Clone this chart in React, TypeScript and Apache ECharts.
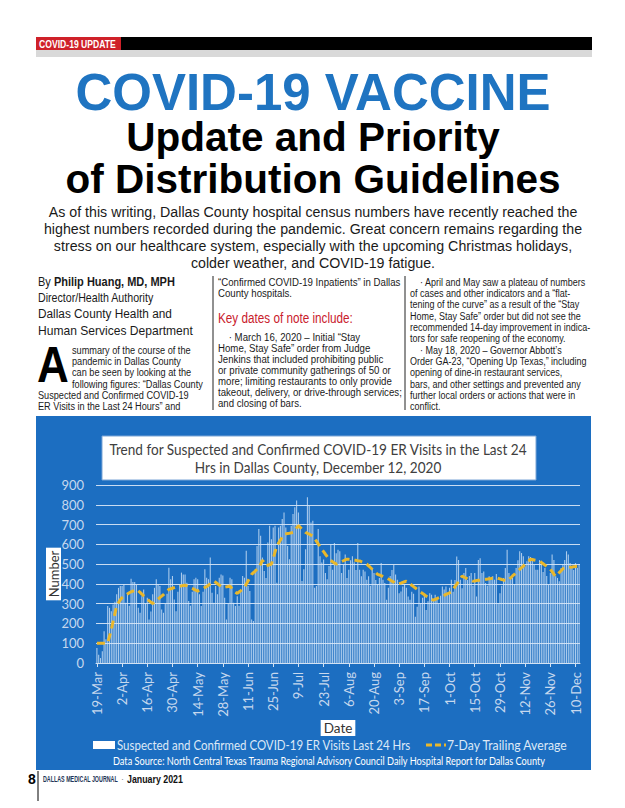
import React, { useEffect, useRef } from "react";
import * as echarts from "echarts";

// ---------- data ----------
const START_DAY = { year: 2020, month: 2, day: 19 }; // 19-Mar-2020
const MONTHS = ["Jan", "Feb", "Mar", "Apr", "May", "Jun", "Jul", "Aug", "Sep", "Oct", "Nov", "Dec"];
const TICK_LABELS = ["19-Mar", "2-Apr", "16-Apr", "30-Apr", "14-May", "28-May", "11-Jun", "25-Jun", "9-Jul", "23-Jul", "6-Aug", "20-Aug", "3-Sep", "17-Sep", "1-Oct", "15-Oct", "29-Oct", "12-Nov", "26-Nov", "10-Dec"];
const Y_MIN = 0;
const Y_MAX = 900;
const Y_STEP = 100;
const SERIES_NAMES = ["Suspected and Confirmed COVID-19 ER Visits Last 24 Hrs", "7-Day Trailing Average"];

const ER_VISITS = [
  76, 42, 25, 60, 160, 120, 288,
  279, 262, 296, 310, 347, 380, 389,
  389, 398, 305, 355, 290, 426, 410,
  410, 395, 279, 254, 338, 372, 300,
  330, 220, 260, 347, 380, 423, 398,
  389, 271, 254, 300, 350, 482, 423,
  440, 321, 262, 360, 400, 457, 448,
  448, 406, 313, 290, 360, 423, 431,
  423, 347, 288, 360, 474, 431, 423,
  533, 355, 305, 389, 347, 431, 448,
  443, 330, 220, 300, 431, 423, 305,
  288, 338, 290, 360, 440, 431, 567,
  389, 364, 220, 212, 474, 592, 677,
  643, 533, 465, 430, 609, 694, 626,
  685, 694, 406, 685, 694, 728, 761,
  685, 592, 525, 694, 753, 787, 821,
  761, 694, 415, 474, 575, 838, 795,
  711, 719, 381, 389, 677, 540, 508,
  523, 455, 423, 491, 601, 472, 607,
  555, 573, 565, 455, 497, 548, 430,
  472, 520, 540, 510, 470, 607, 472,
  438, 472, 463, 421, 438, 390, 480,
  455, 420, 400, 430, 505, 421, 404,
  320, 380, 440, 470, 497, 447, 421,
  353, 361, 387, 400, 380, 336, 320,
  360, 350, 234, 285, 387, 302, 330,
  350, 268, 312, 353, 345, 320, 345,
  320, 300, 340, 387, 371, 387, 350,
  380, 421, 360, 420, 538, 521, 421,
  378, 455, 480, 420, 440, 455, 390,
  455, 336, 521, 530, 455, 463, 404,
  390, 438, 420, 438, 421, 450, 302,
  353, 390, 430, 480, 573, 455, 430,
  430, 400, 480, 520, 565, 556, 540,
  489, 514, 540, 536, 530, 497, 472,
  472, 520, 500, 460, 480, 440, 396,
  455, 548, 521, 438, 430, 413, 480,
  500, 521, 565, 548, 505, 480, 470,
  505, 480, 500,
];

const TRAILING_AVG = [
  100, 100, 100, 100, 100, 100, 100,
  135, 169, 210, 250, 288, 305, 320,
  330, 336, 342, 349, 355, 360, 364,
  368, 372, 365, 357, 348, 340, 332,
  323, 315, 308, 301, 308, 316, 323,
  331, 338, 346, 355, 363, 372, 375,
  378, 381, 384, 386, 388, 390, 392,
  393, 390, 386, 381, 377, 372, 368,
  364, 368, 373, 377, 382, 386, 393,
  400, 407, 414, 408, 401, 394, 388,
  381, 383, 385, 387, 389, 377, 364,
  358, 352, 359, 366, 374, 381, 398,
  415, 431, 448, 457, 465, 474, 482,
  500, 520, 505, 491, 494, 497, 500,
  530, 561, 592, 607, 622, 636, 651,
  653, 655, 656, 658, 660, 671, 683,
  694, 686, 677, 669, 660, 656, 651,
  647, 643, 629, 616, 602, 589, 575,
  563, 550, 538, 525, 519, 512, 506,
  500, 504, 508, 513, 517, 521, 525,
  524, 523, 521, 520, 519, 517, 516,
  512, 508, 504, 500, 491, 483, 474,
  465, 457, 448, 445, 441, 438, 434,
  431, 425, 420, 414, 409, 403, 398,
  401, 404, 408, 411, 414, 407, 400,
  393, 386, 379, 372, 365, 358, 352,
  345, 338, 333, 328, 323, 318, 322,
  326, 330, 334, 338, 342, 347, 351,
  355, 359, 372, 386, 399, 413, 426,
  440, 435, 430, 425, 421, 418, 414,
  415, 417, 418, 419, 420, 422, 423,
  424, 426, 427, 429, 430, 431, 428,
  425, 422, 420, 417, 414, 423, 431,
  440, 448, 457, 465, 474, 482, 490,
  499, 508, 516, 525, 523, 521, 519,
  518, 516, 509, 502, 495, 488, 481,
  474, 462, 449, 437, 447, 457, 467,
  477, 479, 480, 482, 484, 485, 487,
  488, 489, 490,
];

const CATEGORIES = ER_VISITS.map((_, i) => {
  const d = new Date(Date.UTC(START_DAY.year, START_DAY.month, START_DAY.day + i));
  return `${d.getUTCDate()}-${MONTHS[d.getUTCMonth()]}`;
});

// ---------- text ----------
const HEADLINE = ["COVID-19 VACCINE", "Update and Priority", "of Distribution Guidelines"];
const INTRO_LINES = [
  "As of this writing, Dallas County hospital census numbers have recently reached the",
  "highest numbers recorded during the pandemic. Great concern remains regarding the",
  "stress on our healthcare system, especially with the upcoming Christmas holidays,",
  "colder weather, and COVID-19 fatigue.",
];
const COL1_DROP_LINES = [
  "summary of the course of the",
  "pandemic in Dallas County",
  "can be seen by looking at the",
  "following figures: \u201cDallas County",
];
const COL1_LINES = [
  "Suspected and Confirmed COVID-19",
  "ER Visits in the Last 24 Hours\u201d and",
];
const COL2_TOP = [
  "\u201cConfirmed COVID-19 Inpatients\u201d in Dallas",
  "County hospitals.",
];
const COL2_LINES = [
  "    \u00b7 March 16, 2020 \u2013 Initial \u201cStay",
  "Home, Stay Safe\u201d order from Judge",
  "Jenkins that included prohibiting public",
  "or private community gatherings of 50 or",
  "more; limiting restaurants to only provide",
  "takeout, delivery, or drive-through services;",
  "and closing of bars.",
];
const COL3_LINES = [
  "    \u00b7 April and May saw a plateau of numbers",
  "of cases and other indicators and a \u201cflat-",
  "tening of the curve\u201d as a result of the \u201cStay",
  "Home, Stay Safe\u201d order but did not see the",
  "recommended 14-day improvement in indica-",
  "tors for safe reopening of the economy.",
  "    \u00b7 May 18, 2020 \u2013 Governor Abbott\u2019s",
  "Order GA-23, \u201cOpening Up Texas,\u201d including",
  "opening of dine-in restaurant services,",
  "bars, and other settings and prevented any",
  "further local orders or actions that were in",
  "conflict.",
];
const CHART_TITLE = [
  "Trend for Suspected and Confirmed COVID-19 ER Visits in the Last 24",
  "Hrs in Dallas County, December 12, 2020",
];
const SOURCE = "Data Source: North Central Texas Trauma Regional Advisory Council Daily Hospital Report for Dallas County";

const HEAD = "'Liberation Sans', Arial, sans-serif";
const BODY = "'Liberation Sans', Arial, sans-serif";
const CHART_FONT = "Lato, 'Open Sans', sans-serif";
const BLUE = "#1c6ec1";
const TITLE_BLUE = "#1f74c1";

let mctx: CanvasRenderingContext2D | null = null;
function measure(t: string, size: number, family: string, weight = "normal") {
  if (!mctx) mctx = document.createElement("canvas").getContext("2d");
  mctx!.font = `${weight} ${size}px ${family}`;
  return mctx!.measureText(t).width;
}
function fit(t: string, size: number, family: string, target: number, weight = "normal") {
  return target / measure(t, size, family, weight);
}

function txt(x: number, y: number, text: string, size: number, opts: any = {}) {
  return {
    type: "text",
    x,
    y,
    z: opts.z ?? 10,
    scaleX: opts.scaleX ?? 1,
    style: {
      text,
      fontSize: size,
      lineHeight: opts.lineHeight,
      fontFamily: opts.family ?? BODY,
      fontWeight: opts.weight ?? "normal",
      fill: opts.fill ?? "#1a1a1a",
      textAlign: opts.align ?? "left",
      align: opts.align ?? "left",
      textVerticalAlign: "middle",
      verticalAlign: "middle",
      rich: opts.rich,
    },
  };
}
function rect(x: number, y: number, w: number, h: number, fill: string, z = 1, stroke?: string) {
  return {
    type: "rect",
    z,
    shape: { x, y, width: w, height: h },
    style: { fill, stroke: stroke ?? null, lineWidth: stroke ? 1 : 0 },
  };
}
function vline(x: number, y1: number, y2: number, color = "#222", w = 1) {
  return { type: "line", z: 5, shape: { x1: x, y1, x2: x, y2 }, style: { stroke: color, lineWidth: w } };
}

export default function App() {
  const ref = useRef<HTMLDivElement>(null);
  useEffect(() => {
    document.body.style.margin = "0";
    const chart = echarts.init(ref.current!, null, { renderer: "svg" });
    const isTick = (_i: number, v: string) => TICK_LABELS.includes(v);

    const g: any[] = [];
    // header bars
    g.push(rect(36, 37, 85, 13, "#cf2129", 2));
    g.push(rect(121, 37, 471, 13, "#000", 2));
    g.push(rect(36, 50, 556, 7, "#d9d9d9", 2));
    g.push(txt(39, 44, "COVID-19 UPDATE", 10.5, { fill: "#fff", weight: "bold", scaleX: fit("COVID-19 UPDATE", 10.5, BODY, 77, "bold") }));
    // headline (one block of three lines)
    g.push(
      txt(313, 134, `{a|${HEADLINE[0]}}\n{b|${HEADLINE[1]}}\n{b|${HEADLINE[2]}}`, 40.5, {
        align: "center",
        family: HEAD,
        weight: "bold",
        fill: "#000",
        rich: {
          a: { fontSize: 51, lineHeight: 47, fontFamily: HEAD, fontWeight: "bold", fill: TITLE_BLUE, color: TITLE_BLUE, align: "center" },
          b: { fontSize: 40.5, lineHeight: 42, fontFamily: HEAD, fontWeight: "bold", fill: "#000", color: "#000", align: "center" },
        },
      })
    );
    const introScale = fit(INTRO_LINES[0], 15, BODY, 529);
    INTRO_LINES.forEach((l, i) => g.push(txt(313, 212 + i * 17, l, 15, { align: "center", fill: "#1a1a1a", scaleX: introScale })));

    // column 1
    const byW = measure("By ", 13, BODY) + measure("Philip Huang, MD, MPH", 13, BODY, "bold");
    g.push(
      txt(38, 282, "{n|By }{b|Philip Huang, MD, MPH}", 13, {
        scaleX: 137 / byW,
        rich: {
          n: { fontSize: 13, fontFamily: BODY, fill: "#1a1a1a", color: "#1a1a1a" },
          b: { fontSize: 13, fontFamily: BODY, fontWeight: "bold", fill: "#1a1a1a", color: "#1a1a1a" },
        },
      })
    );
    g.push(txt(38, 298, "Director/Health Authority", 12, { scaleX: fit("Director/Health Authority", 12, BODY, 116) }));
    g.push(txt(38, 314, "Dallas County Health and", 13.5, { scaleX: fit("Dallas County Health and", 13.5, BODY, 134) }));
    g.push(txt(38, 330, "Human Services Department", 13.5, { scaleX: fit("Human Services Department", 13.5, BODY, 155) }));
    g.push(txt(37, 364, "A", 50, { family: HEAD, weight: "900", fill: "#000", scaleX: 0.88 }));
    const c1Scale = fit(COL1_DROP_LINES[3], 11, BODY, 131);
    COL1_DROP_LINES.forEach((l, i) => g.push(txt(72, 350 + i * 11.3, l, 11, { scaleX: c1Scale })));
    COL1_LINES.forEach((l, i) => g.push(txt(38, 395 + i * 11.3, l, 11, { scaleX: c1Scale })));

    // column 2
    g.push(vline(213, 276, 410));
    const c2Scale = fit(COL2_LINES[5], 11, BODY, 184);
    COL2_TOP.forEach((l, i) => g.push(txt(218, 282 + i * 11.3, l, 11, { scaleX: c2Scale })));
    g.push(txt(218, 318, "Key dates of note include:", 15, { fill: "#c9202c", scaleX: fit("Key dates of note include:", 15, BODY, 135) }));
    COL2_LINES.forEach((l, i) => g.push(txt(218, 337 + i * 11.1, l, 11, { scaleX: c2Scale })));

    // column 3
    g.push(vline(405, 276, 410));
    const c3Scale = fit(COL3_LINES[7], 11, BODY, 177);
    COL3_LINES.forEach((l, i) => g.push(txt(410, 282 + i * 11.3, l, 11, { scaleX: c3Scale })));

    // chart box & its texts
    g.push(rect(36, 416, 555, 354, BLUE, -10));
    g.push(rect(102, 436, 434, 44, "#ffffff", 5, "#7aa5d6"));
    const tScale = fit(CHART_TITLE[0], 15.5, CHART_FONT, 418);
    g.push(txt(318, 449, CHART_TITLE[0], 15.5, { family: CHART_FONT, fill: "#404040", align: "center", scaleX: tScale, lineHeight: 17 }));
    g.push(txt(318, 467, CHART_TITLE[1], 15.5, { family: CHART_FONT, fill: "#404040", align: "center", scaleX: tScale, lineHeight: 17 }));

    // legend (drawn)
    g.push(rect(93, 741, 22, 8, "#ffffff", 6));
    g.push(txt(117, 745, SERIES_NAMES[0], 14, { family: CHART_FONT, fill: "#dde9f7", scaleX: fit(SERIES_NAMES[0], 14, CHART_FONT, 294) }));
    g.push({ type: "line", z: 6, shape: { x1: 426, y1: 745, x2: 446, y2: 745 }, style: { stroke: "#e9b72b", lineWidth: 3, lineDash: [6, 3] } });
    g.push(txt(447, 745, SERIES_NAMES[1], 14, { family: CHART_FONT, fill: "#dde9f7", scaleX: fit(SERIES_NAMES[1], 14, CHART_FONT, 121) }));
    g.push(txt(329, 761, SOURCE, 11, { family: CHART_FONT, fill: "#ffffff", align: "center", scaleX: fit(SOURCE, 11, CHART_FONT, 434) }));

    // footer
    g.push(txt(28, 779, "8", 14, { family: HEAD, weight: "bold", fill: "#000" }));
    g.push(vline(38, 771, 801, "#000", 1));
    g.push(txt(43, 779, "DALLAS MEDICAL JOURNAL", 9, { weight: "bold", fill: "#1e3557", scaleX: fit("DALLAS MEDICAL JOURNAL", 9, BODY, 75, "bold") }));
    g.push(txt(121, 779, "\u00b7", 9, { fill: "#888" }));
    g.push(txt(127, 779, "January 2021", 10, { weight: "bold", fill: "#111", scaleX: fit("January 2021", 10, BODY, 56, "bold") }));

    chart.setOption({
      animation: false,
      backgroundColor: "#ffffff",
      textStyle: { fontFamily: CHART_FONT },
      grid: { left: 96, right: 45, top: 485, bottom: 145, containLabel: false },
      xAxis: {
        type: "category",
        data: CATEGORIES,
        boundaryGap: true,
        axisLine: { lineStyle: { color: "#d3e2f3", width: 1 } },
        axisTick: { show: true, interval: isTick, length: 4, alignWithLabel: true, lineStyle: { color: "#d3e2f3" } },
        axisLabel: { interval: isTick, rotate: 90, color: "#c6d8ee", fontSize: 13, margin: 9, fontFamily: CHART_FONT },
        name: "Date",
        nameLocation: "middle",
        nameGap: 57,
        nameMoveOverlap: false,
        nameTextStyle: { backgroundColor: "#ffffff", color: "#333", fontSize: 13.5, padding: [1, 3, 1, 3], fontFamily: CHART_FONT },
      },
      yAxis: {
        type: "value",
        min: Y_MIN,
        max: Y_MAX,
        interval: Y_STEP,
        axisLine: { show: false },
        axisTick: { show: false },
        axisLabel: { color: "#c6d8ee", fontSize: 13, margin: 12, fontFamily: CHART_FONT },
        splitLine: { lineStyle: { color: "rgba(232,240,250,0.85)", width: 1 } },
        name: "Number",
        nameLocation: "middle",
        nameRotate: 90,
        nameGap: 35,
        nameMoveOverlap: false,
        nameTextStyle: { backgroundColor: "#ffffff", color: "#333", fontSize: 13, padding: [1, 3, 1, 3], fontFamily: CHART_FONT },
      },
      series: [
        {
          type: "bar",
          name: SERIES_NAMES[0],
          data: ER_VISITS,
          barWidth: "60%",
          itemStyle: { color: "rgba(212,229,249,0.78)" },
          z: 2,
        },
        {
          type: "line",
          name: SERIES_NAMES[1],
          data: TRAILING_AVG,
          symbol: "none",
          lineStyle: { color: "#e9b72b", width: 3, type: [8, 5] },
          itemStyle: { color: "#e9b72b" },
          z: 3,
        },
      ],
      graphic: { elements: g },
    });
    return () => chart.dispose();
  }, []);
  return <div ref={ref} style={{ width: 625, height: 808 }} />;
}
